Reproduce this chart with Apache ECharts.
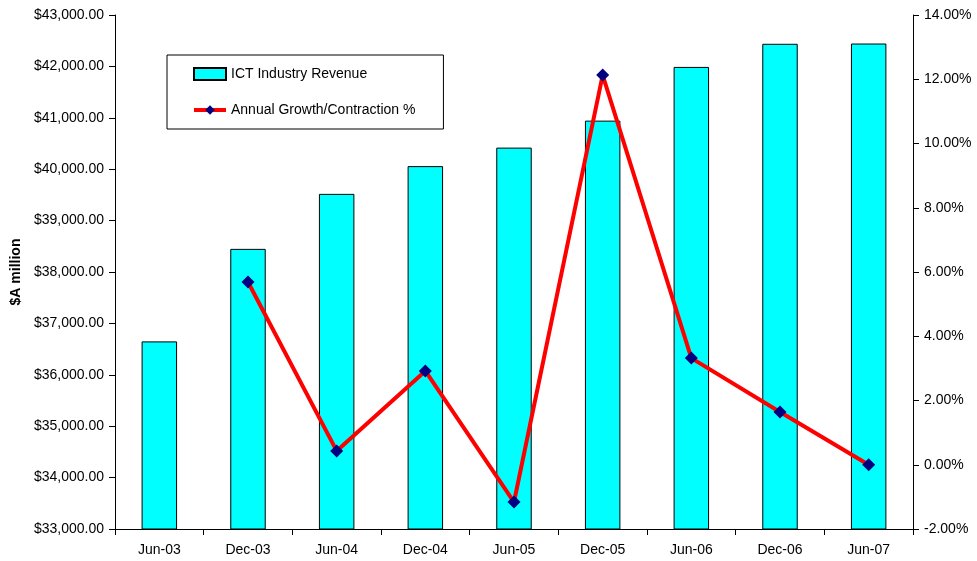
<!DOCTYPE html>
<html>
<head>
<meta charset="utf-8">
<script src="https://cdn.jsdelivr.net/npm/echarts@6/dist/echarts.min.js"></script>
<style>
  html, body { margin: 0; padding: 0; background: #fff; }
  #chart { width: 977px; height: 561px; }
</style>
</head>
<body>
<div id="chart"></div>
<script>
var periods = ['Jun-03', 'Dec-03', 'Jun-04', 'Dec-04', 'Jun-05', 'Dec-05', 'Jun-06', 'Dec-06', 'Jun-07'];
var revenue = [36650, 38450, 39520, 40060, 40420, 40945, 41990, 42440, 42445];
var growth = [null, 5.69, 0.43, 2.92, -1.16, 12.13, 3.32, 1.64, 0.0];

var font = 'Liberation Sans, Arial, sans-serif';

var chart = echarts.init(document.getElementById('chart'));

chart.setOption({
    animation: false,
    textStyle: { fontFamily: font },
    grid: { left: 115, right: 64, top: 15, bottom: 32, outerBoundsMode: 'none' },
    legend: {
        orient: 'vertical',
        left: 167,
        top: 55,
        padding: [12, 28, 12, 25],
        itemGap: 22,
        itemWidth: 32,
        itemHeight: 12,
        borderColor: '#000',
        borderWidth: 1,
        backgroundColor: '#fff',
        textStyle: { fontSize: 14, color: '#000', fontFamily: font },
        data: [
            { name: 'ICT Industry Revenue', icon: 'rect' },
            { name: 'Annual Growth/Contraction %', lineStyle: { width: 4 } }
        ]
    },
    xAxis: {
        type: 'category',
        data: periods,
        axisLine: { onZero: false, lineStyle: { color: '#000' } },
        axisTick: { show: true, length: 6, lineStyle: { color: '#000' } },
        axisLabel: { color: '#000', fontSize: 14, margin: 14 }
    },
    yAxis: [
        {
            type: 'value',
            min: 33000,
            max: 43000,
            interval: 1000,
            name: '$A million',
            nameLocation: 'middle',
            nameGap: 92,
            nameTextStyle: { fontWeight: 'bold', fontSize: 14, color: '#000' },
            axisLine: { show: true, lineStyle: { color: '#000' } },
            axisTick: { show: true, length: 6, lineStyle: { color: '#000' } },
            splitLine: { show: false },
            axisLabel: {
                color: '#000',
                fontSize: 14,
                margin: 11,
                formatter: function (v) {
                    return '$' + v.toLocaleString('en-US', { minimumFractionDigits: 2, maximumFractionDigits: 2 });
                }
            }
        },
        {
            type: 'value',
            min: -2,
            max: 14,
            interval: 2,
            position: 'right',
            axisLine: { show: true, lineStyle: { color: '#000' } },
            axisTick: { show: true, length: 6, lineStyle: { color: '#000' } },
            splitLine: { show: false },
            axisLabel: {
                color: '#000',
                fontSize: 14,
                margin: 11,
                formatter: function (v) { return v.toFixed(2) + '%'; }
            }
        }
    ],
    series: [
        {
            name: 'ICT Industry Revenue',
            type: 'bar',
            data: revenue,
            barWidth: '40%',
            itemStyle: { color: '#00ffff', borderColor: '#000', borderWidth: 1 }
        },
        {
            name: 'Annual Growth/Contraction %',
            type: 'line',
            yAxisIndex: 1,
            data: growth,
            symbol: 'diamond',
            symbolSize: 13,
            lineStyle: { color: '#ff0000', width: 4 },
            itemStyle: { color: '#000080' }
        }
    ]
});
</script>
</body>
</html>
